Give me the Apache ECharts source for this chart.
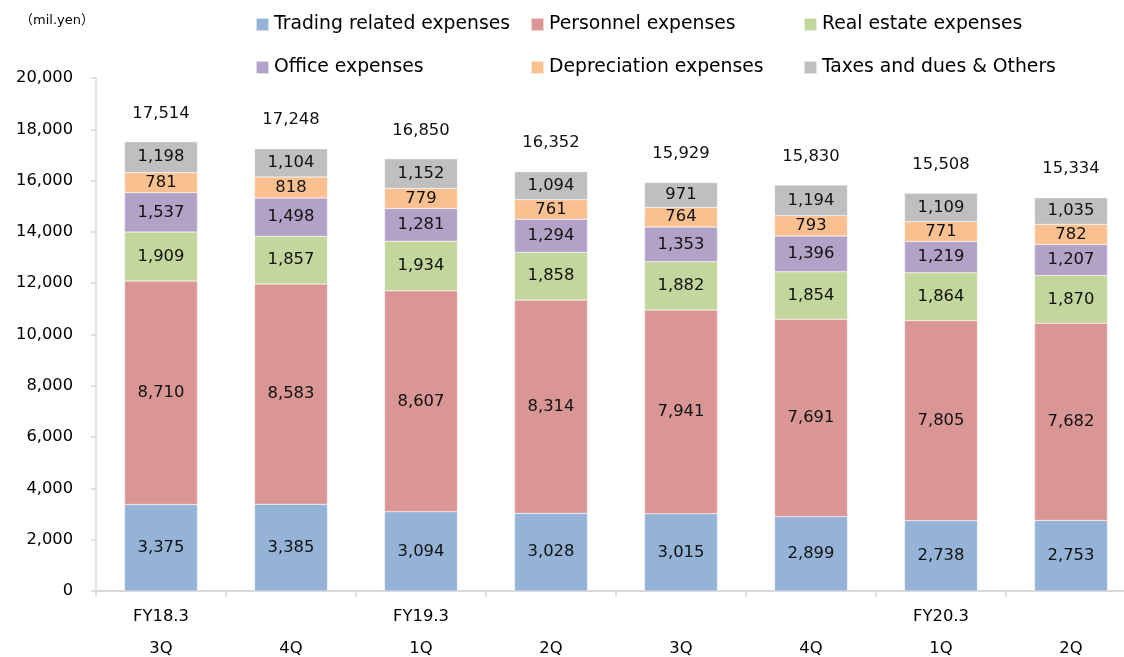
<!DOCTYPE html>
<html>
<head>
<meta charset="utf-8">
<script src="https://cdn.jsdelivr.net/npm/echarts@6/dist/echarts.min.js"></script>
<style>html,body{margin:0;padding:0;background:#fff;overflow:hidden;}#c{width:1124px;height:657px;}</style>
</head>
<body>
<div id="c"></div>
<script>
const fyLabels = ["FY18.3", "", "FY19.3", "", "", "", "FY20.3", ""];
const qLabels = ["3Q", "4Q", "1Q", "2Q", "3Q", "4Q", "1Q", "2Q"];
const seriesNames = ["Trading related expenses", "Personnel expenses", "Real estate expenses", "Office expenses", "Depreciation expenses", "Taxes and dues & Others"];
const trading = [3375, 3385, 3094, 3028, 3015, 2899, 2738, 2753];
const personnel = [8710, 8583, 8607, 8314, 7941, 7691, 7805, 7682];
const realEstate = [1909, 1857, 1934, 1858, 1882, 1854, 1864, 1870];
const office = [1537, 1498, 1281, 1294, 1353, 1396, 1219, 1207];
const depreciation = [781, 818, 779, 761, 764, 793, 771, 782];
const taxes = [1198, 1104, 1152, 1094, 971, 1194, 1109, 1035];
const totals = [17514, 17248, 16850, 16352, 15929, 15830, 15508, 15334];
const yTicks = [0, 2000, 4000, 6000, 8000, 10000, 12000, 14000, 16000, 18000, 20000];

const colors = ["#95B3D7", "#D99694", "#C3D69B", "#B3A2C7", "#FAC090", "#BFBFBF"];
const FONT = "'DejaVu Sans', Verdana, sans-serif";
const fmt = v => Number(v).toLocaleString('en-US');
const categories = qLabels.map((q, i) => fyLabels[i] + "\n" + q);
const values = [trading, personnel, realEstate, office, depreciation, taxes];

const legendPos = [
  {left: 255, top: 15}, {left: 530, top: 15}, {left: 803, top: 15},
  {left: 255, top: 58}, {left: 530, top: 58}, {left: 803, top: 58}
];

const chart = echarts.init(document.getElementById('c'), null, {renderer: 'canvas', width: 1124, height: 657});
chart.setOption({
  animation: false,
  color: colors,
  title: {
    text: '（mil.yen）', left: 20, top: 14, padding: 0,
    textStyle: {fontFamily: "'DejaVu Sans', 'Noto Sans CJK JP', sans-serif", fontSize: 13, fontWeight: 'normal', color: '#000'}
  },
  legend: seriesNames.map((n, i) => ({
    data: [n], left: legendPos[i].left, top: legendPos[i].top, padding: 0,
    itemWidth: 13, itemHeight: 13, icon: 'rect',
    textStyle: {fontFamily: FONT, fontSize: 18.8, color: '#000'}
  })),
  grid: {left: 96, width: 1040, top: 78, height: 513, containLabel: false, outerBoundsMode: 'none'},
  xAxis: {
    type: 'category', data: categories,
    axisLine: {lineStyle: {color: '#d9d9d9', width: 2}},
    axisTick: {show: true, length: 6, lineStyle: {color: '#d9d9d9', width: 1.5}},
    axisLabel: {interval: 0, fontFamily: FONT, fontSize: 16.4, color: '#000', lineHeight: 32, margin: 10}
  },
  yAxis: {
    type: 'value', min: yTicks[0], max: yTicks[yTicks.length - 1], interval: yTicks[1] - yTicks[0],
    axisLine: {show: true, lineStyle: {color: '#d9d9d9', width: 1.5}},
    axisTick: {show: true, length: 5, lineStyle: {color: '#d9d9d9', width: 1.5}},
    splitLine: {show: false},
    axisLabel: {fontFamily: FONT, fontSize: 16.3, color: '#000', margin: 23, formatter: fmt}
  },
  series: seriesNames.map((n, i) => ({
    name: n, type: 'bar', stack: 'total', barWidth: 73, data: values[i],
    itemStyle: {color: colors[i], borderColor: 'rgba(255,255,255,0.6)', borderWidth: 0.5},
    label: {show: true, position: 'inside', fontFamily: FONT, fontSize: 16.4, color: '#111', formatter: p => fmt(p.value)}
  })).concat([{
    name: 'Total', type: 'line', data: totals, symbol: 'circle', symbolSize: 1, showSymbol: true,
    itemStyle: {color: 'rgba(0,0,0,0)'}, lineStyle: {width: 0, color: 'rgba(0,0,0,0)'},
    label: {show: true, position: 'top', distance: 20, fontFamily: FONT, fontSize: 16.4, color: '#111', formatter: p => fmt(p.value)}
  }])
});
</script>
</body>
</html>
